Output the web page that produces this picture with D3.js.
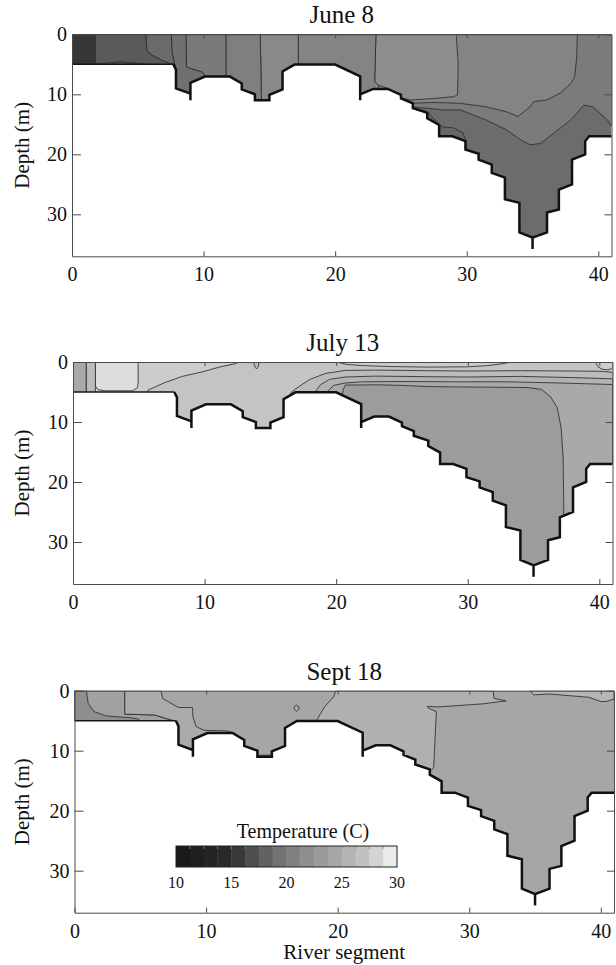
<!DOCTYPE html>
<html>
<head>
<meta charset="utf-8">
<script src="https://cdn.jsdelivr.net/npm/d3@7"></script>
<style>
  body { margin: 0; background: #fff; }
  svg { display: block; }
</style>
</head>
<body>
<div id="chart"></div>
<script>
// temperature cross sections of the river, three dates
const panelTitles = ["June 8", "July 13", "Sept 18"]
const segTicks = [0, 10, 20, 30, 40]
const depthTicks = [0, 10, 20, 30]
const legendTicks = [10, 15, 20, 25, 30]
const legendRange = [10, 30]
const legendStep = 1.25

// river bed, [segment, depth (m)]
const bedShallow = [[0, 5], [7.7, 5]]
const bedDeep = [[7.7, 5], [7.9, 5.9], [7.9, 9], [9, 9.9], [9, 11], [9, 8.1], [10.1, 7.05], [12, 7.05],
  [12.9, 8.2], [12.9, 9.2], [13.9, 10], [13.9, 11], [15, 11], [15, 10.1], [16, 9.2], [16, 6.2],
  [16.9, 5.05], [20, 5.05], [21.9, 7], [21.9, 11], [21.9, 10], [22.9, 9.1], [24, 9.1], [25, 10.1],
  [25, 10.7], [25.9, 11.5], [25.9, 12.3], [27, 13.1], [27, 14], [27.9, 15.1], [27.9, 17], [28.9, 17],
  [29.9, 17.8], [29.9, 19.2], [30.9, 19.9], [30.9, 20.9], [31.9, 21.7], [31.9, 23.1], [32.9, 23.9],
  [32.9, 27.5], [34, 28.1], [34, 33], [35, 33.9], [35, 35.8], [35, 33.9], [36.1, 33], [36.1, 29.7],
  [37, 29.2], [37, 25.9], [38, 25], [38, 20.9], [39, 20], [39, 17.8], [39.3, 17], [41, 17]]

// zones of equal temperature (C), painted in order, outlines are isotherms
const june8Zones = [
  { t: 18.9, pts: [[0, 0], [41, 0], [41, 40], [0, 40]] },
  { t: 18.4, pts: [[25.95, 12.2], [26.9, 12.85], [27.3, 13.6], [27.7, 14.6], [28.1, 15.4], [29, 15.6], [29.7, 16.4], [29.95, 17.8], [29.95, 25], [25.5, 25], [25.5, 12.2]] },
  { t: 20.1, pts: [[0, 0], [41, 0], [41, 15.3], [40.7, 14.3], [39.6, 12.1], [38.9, 11.8], [37.9, 14.3], [36.6, 16.5], [35.6, 18.2], [34.8, 18.4], [34.1, 17.6], [33, 15.9], [31.5, 14.3], [29.5, 12.6], [28.2, 12.6], [25.95, 12.1], [25.4, 12], [0, 12]] },
  { t: 20.9, pts: [[0, 0], [38.4, 0], [38.35, 4], [38.2, 7.1], [37.9, 8.2], [37.1, 9.8], [36.1, 10.95], [35.1, 11.2], [34.8, 12.1], [33.9, 13.7], [33, 12.9], [31.5, 12.1], [29.5, 11.5], [27.5, 11.35], [25.7, 11.5], [25.2, 11.6], [0, 11.6]] },
  { t: 21.85, pts: [[23.1, 0], [29.2, 0], [29.35, 5], [29.3, 10.1], [29, 10.4], [27.5, 10.7], [25.7, 10.95], [24.8, 10.4], [24, 9.0], [23.3, 8.5], [23, 7.9]] },
  { t: 20.9, pts: [[17.2, 0], [23.1, 0], [23, 7.9], [23.3, 8.5], [23.3, 12], [17.2, 12]] },
  { t: 21.4, pts: [[14.3, 0], [17.2, 0], [17.2, 12], [14.4, 12], [14.35, 5]] },
  { t: 20.5, pts: [[11.7, 0], [14.3, 0], [14.35, 5], [14.4, 12], [11.7, 12]] },
  { t: 20.0, pts: [[8.67, 0], [11.7, 0], [11.7, 12], [10.2, 12], [10.2, 7.1], [9.9, 6.3], [9, 5.7], [8.7, 5.4]] },
  { t: 19.2, pts: [[7.55, 0], [8.67, 0], [8.7, 5.4], [9, 5.7], [9.9, 6.3], [10.2, 7.1], [10.2, 12], [7.95, 12], [7.95, 6], [7.8, 5], [7.6, 3]] },
  { t: 18.8, pts: [[5.6, 0], [7.55, 0], [7.6, 3], [7.75, 4.5], [7.8, 5], [7.45, 4.9], [6.8, 4.3], [6.1, 3.5], [5.7, 2.8]] },
  { t: 17.5, pts: [[1.75, 0], [5.6, 0], [5.7, 2.8], [6.1, 3.5], [6.8, 4.3], [7.45, 4.9], [7.8, 5], [7.95, 6], [1.75, 6]] },
  { t: 17.1, pts: [[1.75, 5.4], [1.75, 4.95], [2.5, 4.85], [3.3, 4.65], [3.8, 4.55], [4.3, 4.7], [5, 4.85], [5.6, 5], [5.6, 5.4]] },
  { t: 15.6, pts: [[0, 0], [1.75, 0], [1.75, 6], [0, 6]] }
]

const july13Zones = [
  { t: 27.1, pts: [[0, 0], [41, 0], [41, 40], [0, 40]] },
  { t: 26.3, pts: [[16.5, 6], [16.6, 5], [17.1, 4.2], [18, 2.9], [19.2, 1.9], [20.7, 1.4], [23, 1.35], [27, 1.45], [30, 1.5], [34, 1.45], [38, 1.5], [40, 1.55], [41, 1.7], [41, 40], [16.5, 40]] },
  { t: 25.5, pts: [[18.3, 5.3], [18.8, 3.8], [19.5, 2.9], [20.7, 2.5], [23, 2.35], [27, 2.45], [30, 2.5], [34, 2.4], [38, 2.6], [41, 2.8], [41, 40], [18.3, 40]] },
  { t: 24.6, pts: [[19.2, 5.3], [19.8, 3.9], [20.7, 3.5], [22, 3.3], [25, 3.25], [29, 3.3], [33, 3.3], [37, 3.5], [41, 3.75], [41, 40], [19.2, 40]] },
  { t: 23.2, pts: [[20.4, 6], [20.55, 4.5], [20.7, 3.85], [23.1, 3.8], [25, 3.9], [27, 4.1], [29, 4.15], [32, 4.2], [34.5, 4.25], [35.6, 4.55], [36.3, 5.8], [36.8, 7.6], [37.1, 11], [37.25, 16], [37.3, 25], [37.3, 40], [20.4, 40]] },
  { t: 27.7, pts: [[20, 0], [20.8, 0.4], [22, 0.6], [24, 0.75], [27, 0.85], [30, 0.8], [31.5, 0.6], [32.6, 0.3], [33.3, 0]] },
  { t: 27.7, pts: [[39.7, 0], [39.9, 0.8], [40.2, 1.2], [40.6, 1.3], [41, 1.1], [41, 0]] },
  { t: 27.7, pts: [[0, 0], [12.6, 0], [12.3, 0.3], [11.2, 0.8], [9.9, 1.6], [8.3, 2.4], [6.9, 3.5], [5.7, 4.7], [5.5, 5.5], [0, 5.5]] },
  { t: 28.6, pts: [[1.7, 0], [1.7, 4.0], [1.9, 4.6], [2.4, 4.8], [4.5, 4.8], [4.9, 4.3], [4.95, 3.5], [4.95, 0]] },
  { t: 26.3, pts: [[1.0, 0], [1.7, 0], [1.7, 6], [1.0, 6]] },
  { t: 24.6, pts: [[0, 0], [1.0, 0], [1.0, 6], [0, 6]] },
  { t: 26.4, pts: [[13.7, 0], [13.85, 0.9], [13.95, 1.15], [14.05, 0.9], [14.15, 0]] }
]

const sept18Zones = [
  { t: 24.3, pts: [[0, 0], [41, 0], [41, 40], [0, 40]] },
  { t: 23.8, pts: [[0, 0], [3.82, 0], [3.82, 3.9], [6.1, 4.05], [6.9, 4.6], [7.5, 4.95], [7.5, 8], [0, 8]] },
  { t: 24.7, pts: [[3.82, 0], [6.57, 0], [6.7, 1.3], [7.9, 2.8], [8.96, 2.8], [9.0, 4.3], [9.25, 6.0], [9.85, 6.6], [11.6, 6.7], [12.2, 7.1], [12.7, 8.2], [12.9, 8.4], [13, 14], [7.5, 14], [7.5, 4.95], [6.9, 4.6], [6.1, 4.05], [3.82, 3.9]] },
  { t: 21.95, pts: [[0, 0], [0.9, 0], [1.04, 2.1], [1.5, 3.5], [2.4, 4.2], [4.2, 4.5], [4.8, 4.7], [5.3, 5.5], [0, 5.5]] },
  { t: 23.5, pts: [[13.8, 10.75], [15.1, 10.75], [15.1, 12], [13.8, 12]] },
  { t: 24.9, pts: [[16.87, 2.4], [17.05, 2.7], [17.05, 3.1], [16.87, 3.45], [16.7, 3.1], [16.7, 2.7]] },
  { t: 25.3, pts: [[19.85, 0], [31.8, 0], [31.9, 1.3], [32.8, 1.7], [31, 2.2], [29, 2.5], [27.6, 2.7], [26.8, 2.6], [26.9, 2.9], [27.5, 3.5], [27.4, 8], [27.3, 12.8], [27.05, 13.4], [27.05, 16], [18.3, 16], [18.35, 5.2], [18.45, 4.8], [18.7, 3.8], [19, 2.7], [19.7, 1]] },
  { t: 25.8, pts: [[34.6, 0], [34.9, 0.7], [36.1, 0.55], [39.1, 1.1], [40, 1.8], [40.4, 1.8], [41, 1.4], [41, 0]] }
]

const zonesByPanel = [june8Zones, july13Zones, sept18Zones]

// layout
const W = 616, H = 965
const panelLeft = [72, 73, 74.5]
const panelTop = [34.3, 362, 690.7]
const plotW = 539.5, plotH = 222
const segMax = 41, depthMax = 37
const font = "'Liberation Serif', 'Times New Roman', serif"

// grey ramp, black at 10 C to white at 30 C
const grey = d3.scaleLinear()
  .domain([10, 15, 17.5, 20, 22.5, 25, 27.5, 30])
  .range([22, 44, 90, 122, 149, 173, 200, 245])
  .clamp(true)
function tone(t) {
  const v = Math.round(grey(t))
  return d3.rgb(v, v, v).toString()
}

const svg = d3.select("#chart").append("svg")
  .attr("width", W)
  .attr("height", H)
  .style("background", "#fff")

function drawPanel(i) {
  const x = d3.scaleLinear().domain([0, segMax]).range([panelLeft[i], panelLeft[i] + plotW])
  const y = d3.scaleLinear().domain([0, depthMax]).range([panelTop[i], panelTop[i] + plotH])
  const line = d3.line().x(d => x(d[0])).y(d => y(d[1]))

  const water = [[0, 0], ...bedShallow, ...bedDeep.slice(1), [segMax, 0]]
  svg.append("clipPath").attr("id", "water" + i)
    .append("path").attr("d", line(water) + "Z")

  const g = svg.append("g").attr("clip-path", `url(#water${i})`)
  g.selectAll("path")
    .data(zonesByPanel[i])
    .join("path")
    .attr("d", d => line(d.pts) + "Z")
    .attr("fill", d => tone(d.t))
    .attr("stroke", (d, k) => k ? "#2e2e2e" : "none")
    .attr("stroke-width", 0.85)
    .attr("stroke-linejoin", "round")

  svg.append("path")
    .attr("d", line(bedShallow))
    .attr("fill", "none")
    .attr("stroke", "#151515")
    .attr("stroke-width", 1.6)

  svg.append("path")
    .attr("d", line(bedDeep))
    .attr("fill", "none")
    .attr("stroke", "#111")
    .attr("stroke-width", 2.5)
    .attr("stroke-linejoin", "miter")
    .attr("stroke-miterlimit", 2)

  const axes = [
    [d3.axisLeft(y).tickValues(depthTicks).tickSizeInner(-9).tickPadding(5), `translate(${panelLeft[i]},0)`],
    [d3.axisRight(y).tickValues(depthTicks).tickSizeInner(-7).tickFormat(() => ""), `translate(${panelLeft[i] + plotW},0)`],
    [d3.axisBottom(x).tickValues(segTicks).tickSizeInner(-5).tickPadding(11), `translate(0,${panelTop[i] + plotH})`],
    [d3.axisTop(x).tickValues(segTicks).tickSizeInner(-4).tickFormat(() => ""), `translate(0,${panelTop[i]})`]
  ]
  axes.forEach(([ax, tr]) => {
    const a = svg.append("g").attr("transform", tr).call(ax.tickSizeOuter(0))
    a.attr("font-family", font).attr("font-size", 20).attr("color", "#111")
    a.selectAll("path, line").attr("stroke", "#4a4a4a").attr("stroke-width", 1)
  })

  svg.append("text")
    .attr("x", panelLeft[i] + plotW / 2)
    .attr("y", panelTop[i] - 11)
    .attr("text-anchor", "middle")
    .attr("font-family", font)
    .attr("font-size", 25)
    .attr("fill", "#111")
    .text(panelTitles[i])

  svg.append("text")
    .attr("transform", `translate(29,${panelTop[i] + plotH / 2}) rotate(-90)`)
    .attr("text-anchor", "middle")
    .attr("font-family", font)
    .attr("font-size", 21)
    .attr("fill", "#111")
    .text("Depth (m)")
}

panelTitles.forEach((t, i) => drawPanel(i))

svg.append("text")
  .attr("x", panelLeft[2] + plotW / 2)
  .attr("y", 959)
  .attr("text-anchor", "middle")
  .attr("font-family", font)
  .attr("font-size", 21)
  .attr("fill", "#111")
  .text("River segment")

// colour bar inside the last panel
const cb = d3.scaleLinear().domain(legendRange).range([176, 397])
const cbTop = 846, cbH = 21
const bands = d3.range(legendRange[0], legendRange[1] - 0.01, legendStep)
const leg = svg.append("g")
leg.selectAll("rect.band")
  .data(bands)
  .join("rect")
  .attr("class", "band")
  .attr("x", d => cb(d))
  .attr("width", d => cb(d + legendStep) - cb(d) + 0.4)
  .attr("y", cbTop)
  .attr("height", cbH)
  .attr("fill", d => tone(d + legendStep / 2))
leg.selectAll("line.edge")
  .data(bands.slice(1))
  .join("line")
  .attr("class", "edge")
  .attr("x1", d => cb(d)).attr("x2", d => cb(d))
  .attr("y1", cbTop).attr("y2", cbTop + 3)
  .attr("stroke", "#888")
  .attr("stroke-width", 0.8)
leg.append("rect")
  .attr("x", cb(legendRange[0]))
  .attr("y", cbTop)
  .attr("width", cb(legendRange[1]) - cb(legendRange[0]))
  .attr("height", cbH)
  .attr("fill", "none")
  .attr("stroke", "#222")
  .attr("stroke-width", 1)
leg.selectAll("text.lab")
  .data(legendTicks)
  .join("text")
  .attr("class", "lab")
  .attr("x", d => cb(d))
  .attr("y", 888)
  .attr("text-anchor", "middle")
  .attr("font-family", font)
  .attr("font-size", 16)
  .attr("fill", "#111")
  .text(d => d)
leg.append("text")
  .attr("x", 303)
  .attr("y", 838)
  .attr("text-anchor", "middle")
  .attr("font-family", font)
  .attr("font-size", 20)
  .attr("fill", "#111")
  .text("Temperature (C)")
</script>
</body>
</html>
